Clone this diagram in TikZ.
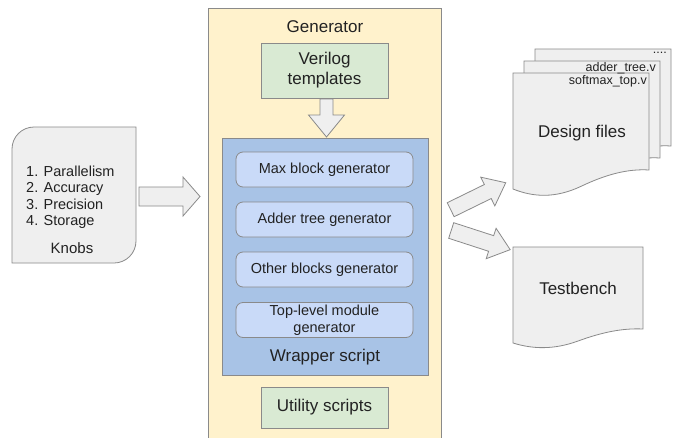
\documentclass[tikz,border=0pt]{standalone}
\usepackage{fontspec}
\setmainfont{Liberation Sans}
\definecolor{txt}{HTML}{222222}
\definecolor{graybox}{HTML}{EFEFEF}
\definecolor{grayline}{HTML}{8A8A8A}
\definecolor{genfill}{HTML}{FFF2CC}
\definecolor{greenfill}{HTML}{D9EAD3}
\definecolor{wrapfill}{HTML}{A8C3E6}
\definecolor{innerfill}{HTML}{C9DAF8}
\newcommand\blkarrow[7]{%
  \begin{scope}[shift={(#1,#2)}, rotate=#3]
    \draw[blockarrow] (0,-#5) -- ({#4-#7},-#5) -- ({#4-#7},-#6) -- (#4,0) -- ({#4-#7},#6) -- ({#4-#7},#5) -- (0,#5) -- cycle;
  \end{scope}}
\newcommand\docshape[6]{%
  \path[#1] (#2,#3) -- ({#2+#4},#3) -- ({#2+#4},{#3+#5})
    .. controls ({#2+0.85*#4},{#3+#5-0.07*#6}) and ({#2+0.69*#4},{#3+#5+0.21*#6}) .. ({#2+0.5*#4},{#3+#5+0.86*#6})
    .. controls ({#2+0.31*#4},{#3+#5+1.5*#6}) and ({#2+0.15*#4},{#3+#5+1.43*#6}) .. (#2,{#3+#5+#6}) -- cycle;}
\begin{document}
\begin{tikzpicture}[x=1pt,y=-1pt,
  lbl/.style={text=txt, inner sep=0pt},
  fbig/.style={font=\fontsize{17}{20}\selectfont},
  fmid/.style={font=\fontsize{14.5}{17}\selectfont},
  fsmall/.style={font=\fontsize{12.5}{14}\selectfont},
  blockarrow/.style={draw=grayline, fill=graybox, line width=0.8pt, line join=miter},
  docstyle/.style={draw=grayline, fill=graybox, line width=0.8pt},
  greenbox/.style={draw=grayline, fill=greenfill, line width=0.8pt, text=txt, fbig, align=center, inner sep=0pt},
  innerbox/.style={draw=grayline, fill=innerfill, line width=0.8pt, rounded corners=7pt, text=txt, fmid, align=center, inner sep=0pt, minimum width=177, minimum height=35},
]
\useasboundingbox (0,0) rectangle (678,437);
\clip (0,0) rectangle (678,437);
\fill[white] (0,0) rectangle (678,437);

% Knobs
\draw[draw=grayline, fill=graybox, line width=0.8pt]
  (12,263) -- (12,149) arc[start angle=180, end angle=270, radius=22] -- (136,127)
  -- (136,241) arc[start angle=0, end angle=90, radius=22] -- cycle;
\node[lbl, align=left, anchor=west, font=\fontsize{14.5}{16.5}\selectfont] (knoblist) at (26,197) {1. Parallelism\\2. Accuracy\\3. Precision\\4. Storage};
\node[lbl, font=\fontsize{15}{17}\selectfont] (knobs) at (72,248) {Knobs};

% arrow knobs -> generator
\blkarrow{139}{196.5}{0}{61}{9.5}{19.5}{17}

% Generator
\draw[draw=grayline, fill=genfill, line width=1pt] (208,8) rectangle (441,450);
\node[lbl, fbig] (gen) at (325,27) {Generator};
\node[greenbox, minimum width=127, minimum height=55] (verilog) at (324.5,70.5) {Verilog\\templates};
\blkarrow{326.5}{99}{-90}{38}{6.5}{18}{22}
\draw[draw=grayline, fill=wrapfill, line width=0.8pt] (222,138) rectangle (428,375);
\node[innerbox] (maxb) at (324.5,169.5) {Max block generator};
\node[innerbox] (addb) at (324.5,219.5) {Adder tree generator};
\node[innerbox] (othb) at (324.5,269.5) {Other blocks generator};
\node[innerbox, font=\fontsize{14.5}{17.5}\selectfont] (topb) at (324.5,320) {Top-level module\\generator};
\node[lbl, fbig] (wrap) at (325,357) {Wrapper script};
\node[greenbox, minimum width=127, minimum height=41] (util) at (324.5,407.5) {Utility scripts};

% arrows to files
\blkarrow{450.7}{209.7}{26.1}{61.3}{7.8}{16}{20}
\blkarrow{451.2}{230.5}{-18}{62}{8.2}{16}{20}

% Design files (stack)
\docshape{docstyle}{535}{49}{136}{97}{19}
\docshape{docstyle}{524}{61}{136}{97}{19}
\docshape{docstyle}{513}{73}{136}{97}{19}
\node[lbl, fsmall, anchor=east] (dots) at (667,53) {....};
\node[lbl, fsmall, anchor=east] (adder) at (656,68) {adder\_tree.v};
\node[lbl, fsmall, anchor=east] (softmax) at (647,81) {softmax\_top.v};
\node[lbl, fbig] (design) at (582,133) {Design files};

% Testbench
\docshape{docstyle}{513}{247}{130}{82}{14}
\node[lbl, fbig] (tb) at (578,288) {Testbench};
\end{tikzpicture}
\end{document}
